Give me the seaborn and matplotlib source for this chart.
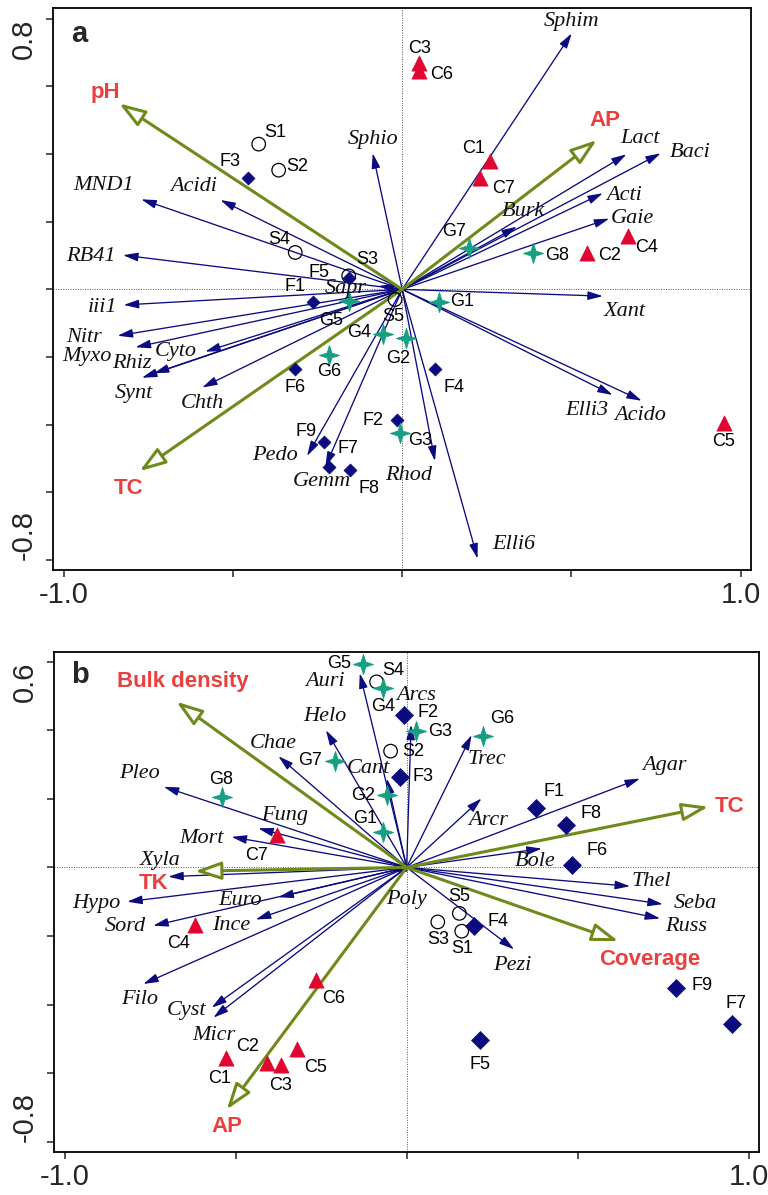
import numpy as np
import pandas as pd
import seaborn as sns
import matplotlib.pyplot as plt
from matplotlib.path import Path

sns.set_style("ticks")
plt.rcParams['font.family'] = ['Liberation Sans', 'DejaVu Sans']

# ---------------- panel a data ----------------
a_species = ['Sphim', 'Lact', 'Baci', 'Acti', 'Gaie', 'Burk', 'Sphio', 'MND1', 'Acidi',
             'RB41', 'Sapr', 'iii1', 'Nitr', 'Myxo', 'Rhiz', 'Cyto', 'Synt', 'Chth',
             'Pedo', 'Gemm', 'Rhod', 'Elli6', 'Elli3', 'Acido', 'Xant']
a_sp_x = [0.501, 0.663, 0.764, 0.593, 0.612, 0.339, -0.087, -0.771, -0.537,
          -0.825, -0.070, -0.823, -0.841, -0.788, -0.734, -0.582, -0.769, -0.591,
          -0.281, -0.227, 0.097, 0.223, 0.622, 0.708, 0.593]
a_sp_y = [0.756, 0.399, 0.402, 0.284, 0.209, 0.185, 0.402, 0.266, 0.264,
          0.101, 0.010, -0.046, -0.137, -0.171, -0.248, -0.184, -0.261, -0.290,
          -0.492, -0.524, -0.507, -0.795, -0.312, -0.329, -0.020]

a_env = ['pH', 'AP', 'TC']
a_env_x = [-0.836, 0.575, -0.776]
a_env_y = [0.549, 0.441, -0.537]

a_samples = ['S1', 'S2', 'S3', 'S4', 'S5',
             'F1', 'F2', 'F3', 'F4', 'F5', 'F6', 'F7', 'F8', 'F9',
             'G1', 'G2', 'G3', 'G4', 'G5', 'G6', 'G7', 'G8',
             'C1', 'C2', 'C3', 'C4', 'C5', 'C6', 'C7']
a_smp_x = [-0.424, -0.365, -0.158, -0.316, -0.021,
           -0.264, -0.016, -0.457, 0.097, -0.158, -0.316, -0.215, -0.154, -0.232,
           0.110, 0.011, -0.006, -0.057, -0.158, -0.215, 0.199, 0.388,
           0.260, 0.547, 0.051, 0.668, 0.951, 0.051, 0.230]
a_smp_y = [0.429, 0.352, 0.040, 0.109, -0.030,
           -0.038, -0.386, 0.328, -0.236, 0.035, -0.236, -0.524, -0.534, -0.452,
           -0.037, -0.143, -0.424, -0.132, -0.034, -0.194, 0.121, 0.106,
           0.379, 0.106, 0.668, 0.157, -0.394, 0.646, 0.328]

# ---------------- panel b data ----------------
b_species = ['Auri', 'Arcs', 'Helo', 'Chae', 'Pleo', 'Cant', 'Fung', 'Mort', 'Xyla',
             'Trec', 'Agar', 'Arcr', 'Bole', 'Thel', 'Seba', 'Russ', 'Pezi', 'Poly',
             'Hypo', 'Euro', 'Sord', 'Ince', 'Filo', 'Cyst', 'Micr']
b_sp_x = [-0.137, 0.013, -0.236, -0.375, -0.710, -0.058, -0.434, -0.512, -0.697,
          0.190, 0.682, 0.219, 0.395, 0.653, 0.749, 0.741, 0.314, -0.044,
          -0.817, -0.375, -0.741, -0.441, -0.770, -0.570, -0.565]
b_sp_y = [0.566, 0.416, 0.400, 0.324, 0.235, 0.259, 0.114, 0.089, -0.027,
          0.386, 0.259, 0.201, 0.055, -0.055, -0.107, -0.149, -0.239, -0.013,
          -0.100, -0.087, -0.170, -0.152, -0.340, -0.409, -0.438]

b_env = ['Bulk density', 'TK', 'TC', 'Coverage', 'AP']
b_env_x = [-0.673, -0.619, 0.882, 0.619, -0.526]
b_env_y = [0.483, -0.011, 0.177, -0.215, -0.706]

b_samples = ['S1', 'S2', 'S3', 'S4', 'S5',
             'F1', 'F2', 'F3', 'F4', 'F5', 'F6', 'F7', 'F8', 'F9',
             'G1', 'G2', 'G3', 'G4', 'G5', 'G6', 'G7', 'G8',
             'C1', 'C2', 'C3', 'C4', 'C5', 'C6', 'C7']
b_smp_x = [0.161, -0.047, 0.091, -0.088, 0.154,
           0.378, -0.008, -0.018, 0.197, 0.214, 0.484, 0.950, 0.465, 0.787,
           -0.068, -0.058, 0.027, -0.068, -0.129, 0.222, -0.210, -0.541,
           -0.528, -0.409, -0.368, -0.619, -0.320, -0.265, -0.380]
b_smp_y = [-0.186, 0.339, -0.159, 0.541, -0.134,
           0.172, 0.444, 0.264, -0.170, -0.504, 0.007, -0.457, 0.123, -0.351,
           0.104, 0.211, 0.397, 0.522, 0.593, 0.383, 0.311, 0.206,
           -0.557, -0.571, -0.576, -0.168, -0.528, -0.327, 0.094]

# ---------------- label offsets (layout) ----------------
a_sp_off = {'Sphim': (0, 0.035), 'Lact': (0.04, 0.047), 'Baci': (0.086, 0.002),
            'Acti': (0.062, -0.008), 'Gaie': (0.068, 0.001), 'Burk': (0.019, 0.044),
            'Sphio': (0, 0.041), 'MND1': (-0.111, 0.04), 'Acidi': (-0.079, 0.039),
            'RB41': (-0.096, -0.003), 'Sapr': (-0.098, -0.007), 'iii1': (-0.064, -0.007),
            'Nitr': (-0.1, -0.006), 'Myxo': (-0.143, -0.026), 'Rhiz': (-0.064, 0.029),
            'Cyto': (-0.088, 0), 'Synt': (-0.024, -0.046), 'Chth': (0, -0.047),
            'Pedo': (-0.094, 0), 'Gemm': (-0.01, -0.044), 'Rhod': (-0.078, -0.042),
            'Elli6': (0.106, 0.04), 'Elli3': (-0.077, -0.045), 'Acido': (-0.005, -0.044),
            'Xant': (0.065, -0.046)}
a_env_off = {'pH': (-0.041, 0.032), 'AP': (0.024, 0.059), 'TC': (-0.032, -0.051)}
a_smp_off = {'S1': (0.049, 0.034), 'S2': (0.054, 0.01), 'S3': (0.054, 0.047),
             'S4': (-0.046, 0.039), 'S5': (-0.005, -0.051),
             'F1': (-0.052, 0.046), 'F2': (-0.069, -0.002), 'F3': (-0.051, 0.049),
             'F4': (0.057, -0.054), 'F5': (-0.089, 0.014), 'F6': (0, -0.054),
             'F7': (0.054, 0.054), 'F8': (0.055, -0.054), 'F9': (-0.052, 0.033),
             'G1': (0.066, 0), 'G2': (-0.022, -0.061), 'G3': (0.059, -0.021),
             'G4': (-0.069, 0.004), 'G5': (-0.053, -0.057), 'G6': (0, -0.049),
             'G7': (-0.045, 0.049), 'G8': (0.069, -0.005),
             'C1': (-0.049, 0.038), 'C2': (0.065, -0.005), 'C3': (0, 0.044),
             'C4': (0.054, -0.033), 'C5': (0, -0.054), 'C6': (0.066, -0.01),
             'C7': (0.069, -0.03)}

b_sp_off = {'Auri': (-0.102, -0.025), 'Arcs': (0.016, 0.085), 'Helo': (-0.003, 0.039),
            'Chae': (-0.015, 0.038), 'Pleo': (-0.07, 0.039), 'Cant': (-0.054, 0.03),
            'Fung': (0.078, 0.038), 'Mort': (-0.089, -0.004), 'Xyla': (-0.024, 0.048),
            'Trec': (0.044, -0.071), 'Agar': (0.073, 0.039), 'Arcr': (0.02, -0.063),
            'Bole': (-0.02, -0.039), 'Thel': (0.063, 0.013), 'Seba': (0.094, 0.002),
            'Russ': (0.076, -0.022), 'Pezi': (-0.004, -0.046), 'Poly': (0.044, -0.08),
            'Hypo': (-0.091, -0.005), 'Euro': (-0.112, -0.01), 'Sord': (-0.083, -0.003),
            'Ince': (-0.071, -0.016), 'Filo': (-0.01, -0.045), 'Cyst': (-0.073, -0.009),
            'Micr': (0, -0.051)}
b_env_off = {'Bulk density': (0.02, 0.058), 'TK': (-0.122, -0.036), 'TC': (0.061, 0),
             'Coverage': (0.092, -0.053), 'AP': (0, -0.05)}
b_smp_off = {'S1': (0, -0.05), 'S2': (0.066, -0.002), 'S3': (0, -0.051),
             'S4': (0.049, 0.034), 'S5': (0, 0.048),
             'F1': (0.053, 0.048), 'F2': (0.07, 0.008), 'F3': (0.067, 0),
             'F4': (0.071, 0.011), 'F5': (0, -0.072), 'F6': (0.073, 0.041),
             'F7': (0.013, 0.06), 'F8': (0.073, 0.034), 'F9': (0.076, 0.008),
             'G1': (-0.054, 0.039), 'G2': (-0.069, 0), 'G3': (0.07, 0),
             'G4': (0, -0.054), 'G5': (-0.068, 0.002), 'G6': (0.056, 0.051),
             'G7': (-0.071, 0), 'G8': (0, 0.051),
             'C1': (-0.018, -0.058), 'C2': (-0.057, 0.048), 'C3': (0, -0.059),
             'C4': (-0.049, -0.054), 'C5': (0.055, -0.055), 'C6': (0.052, -0.055),
             'C7': (-0.059, -0.058)}

NAVY = '#0b0b80'
OLIVE = '#6e8a1a'
RED_TXT = '#e8403f'
RED_TRI = '#e0062f'
TEAL = '#16a083'

star4 = Path.unit_regular_star(4, 0.34)


def draw_panel(ax, species, sx, sy, s_off, env, ex, ey, e_off,
               samples, px, py, p_off, ylim, yticks, letter, diamond_s):
    ax.set_xlim(-1.031, 1.031)
    ax.set_ylim(*ylim)
    ax.axhline(0, color='#555555', lw=0.7, ls=(0, (1, 1.5)), zorder=0)
    ax.axvline(0, color='#555555', lw=0.7, ls=(0, (1, 1.5)), zorder=0)

    # species arrows
    for name, x, y in zip(species, sx, sy):
        ax.annotate('', xy=(x, y), xytext=(0, 0),
                    arrowprops=dict(arrowstyle='-|>,head_length=0.9,head_width=0.26',
                                    mutation_scale=10, color=NAVY, lw=0.95,
                                    shrinkA=0, shrinkB=0), zorder=2)
        dx, dy = s_off[name]
        ax.text(x + dx, y + dy, name, ha='center', va='center', fontsize=16,
                family='Liberation Serif', style='italic', color='#111111', zorder=6)

    # environmental arrows
    for name, x, y in zip(env, ex, ey):
        ax.annotate('', xy=(x, y), xytext=(0, 0),
                    arrowprops=dict(arrowstyle='-|>,head_length=1.0,head_width=0.34',
                                    mutation_scale=16, facecolor='white',
                                    edgecolor=OLIVE, lw=2.2,
                                    shrinkA=0, shrinkB=0), zorder=3)
        dx, dy = e_off[name]
        ax.text(x + dx, y + dy, name, ha='center', va='center', fontsize=16,
                fontweight='bold', color=RED_TXT, zorder=6)

    # samples
    df = pd.DataFrame({'x': px, 'y': py, 'name': samples})
    df['group'] = df['name'].str[0]
    styles = {
        'S': dict(marker='o', s=95, color='none', edgecolor='black', linewidth=0.9),
        'F': dict(marker='D', s=diamond_s, color=NAVY, edgecolor=NAVY, linewidth=0.5),
        'G': dict(marker=star4, s=210, color=TEAL, edgecolor=TEAL, linewidth=0.6),
        'C': dict(marker='^', s=120, color=RED_TRI, edgecolor=RED_TRI, linewidth=0.5),
    }
    for g, kw in styles.items():
        sns.scatterplot(data=df[df['group'] == g], x='x', y='y', ax=ax,
                        legend=False, zorder=5, **kw)
    for _, r in df.iterrows():
        dx, dy = p_off[r['name']]
        ax.text(r['x'] + dx, r['y'] + dy, r['name'], ha='center', va='center',
                fontsize=13, color='black', zorder=6)

    ax.text(0.037, 1 - 0.045, letter, transform=ax.transAxes, ha='center',
            va='center', fontsize=21, fontweight='bold')

    ax.set_xlabel('')
    ax.set_ylabel('')
    ax.set_xticks([-1.0, -0.5, 0, 0.5, 1.0])
    ax.set_xticklabels(['-1.0', '', '', '', '1.0'], fontsize=21)
    ax.set_yticks(yticks)
    ylabels = [''] * len(yticks)
    ylabels[0] = '%.1f' % yticks[0]
    ylabels[-1] = '%.1f' % yticks[-1]
    ax.set_yticklabels(ylabels, fontsize=21, rotation=90)
    tl = ax.get_yticklabels()
    tl[0].set_verticalalignment('bottom')
    tl[-1].set_verticalalignment('top')
    for t in tl:
        t.set_horizontalalignment('center')
    ax.tick_params(direction='out', length=5, width=1.1, pad=3)
    ax.tick_params(axis='y', pad=16)
    for sp in ax.spines.values():
        sp.set_linewidth(1.3)
        sp.set_color('black')


fig = plt.figure(figsize=(7.68, 11.95), dpi=100)
ax_a = fig.add_axes([0.0694, 0.523, 0.9085, 0.470])
ax_b = fig.add_axes([0.0703, 0.0362, 0.9184, 0.4179])

draw_panel(ax_a, a_species, a_sp_x, a_sp_y, a_sp_off, a_env, a_env_x, a_env_y, a_env_off,
           a_samples, a_smp_x, a_smp_y, a_smp_off, (-0.829, 0.83),
           [-0.8, -0.6, -0.4, -0.2, 0, 0.2, 0.4, 0.6, 0.8], 'a', 44)
draw_panel(ax_b, b_species, b_sp_x, b_sp_y, b_sp_off, b_env, b_env_x, b_env_y, b_env_off,
           b_samples, b_smp_x, b_smp_y, b_smp_off, (-0.829, 0.627),
           [-0.8, -0.6, -0.4, -0.2, 0, 0.2, 0.4, 0.6], 'b', 84)

fig.savefig('out.png', dpi=100)
